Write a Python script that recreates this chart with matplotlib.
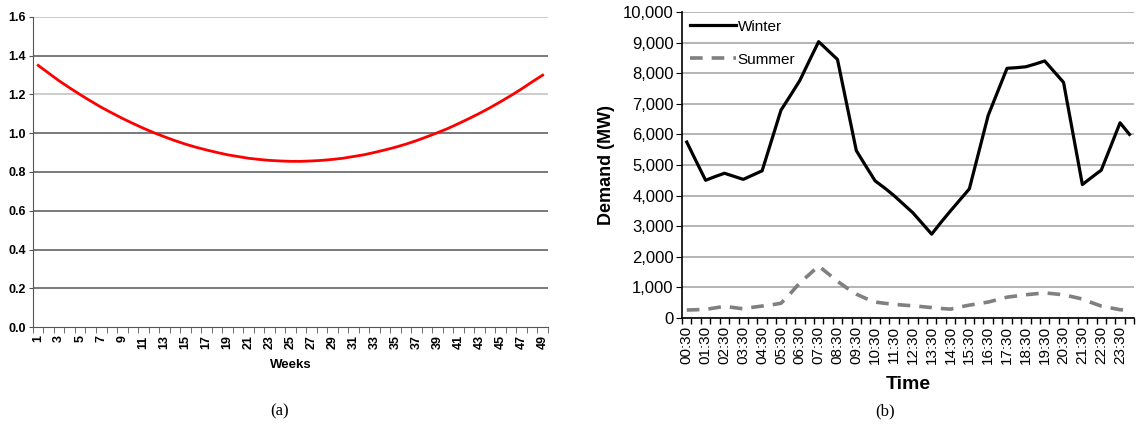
import matplotlib
matplotlib.use('Agg')
import matplotlib.pyplot as plt
import numpy as np
from matplotlib.ticker import StrMethodFormatter

plt.rcParams['font.family'] = ['Liberation Sans', 'DejaVu Sans']

# (a) weekly factor
weeks = list(range(1, 50))
factor = [1.350, 1.310, 1.270, 1.234, 1.199, 1.166, 1.134, 1.105, 1.077, 1.051,
          1.026, 1.003, 0.982, 0.962, 0.944, 0.928, 0.914, 0.901, 0.889, 0.880,
          0.871, 0.865, 0.860, 0.857, 0.855, 0.855, 0.857, 0.860, 0.865, 0.871,
          0.880, 0.889, 0.901, 0.914, 0.928, 0.944, 0.962, 0.982, 1.003, 1.025,
          1.050, 1.076, 1.103, 1.132, 1.163, 1.195, 1.229, 1.265, 1.300]

# (b) half-hourly demand, 00:30 .. 24:00
hour_labels = ['%02d:30' % h for h in range(24)]
winter = [5750, 5120, 4500, 4620, 4730, 4630, 4530, 4670, 4810, 5800,
          6790, 7270, 7760, 8400, 9030, 8740, 8450, 6960, 5470, 4970,
          4480, 4250, 4000, 3720, 3440, 3090, 2740, 3130, 3500, 3860,
          4220, 5420, 6620, 7390, 8160, 8180, 8210, 8300, 8400, 8050,
          7700, 6030, 4360, 4600, 4830, 5600, 6380, 6000]
summer = [260, 270, 280, 330, 380, 340, 300, 350, 390, 430,
          480, 800, 1150, 1420, 1700, 1450, 1200, 980, 780, 640,
          520, 480, 450, 420, 400, 370, 340, 310, 290, 360,
          420, 470, 520, 600, 680, 720, 760, 790, 820, 790,
          760, 690, 620, 500, 390, 330, 270, 260]

narrow = ['Liberation Sans Narrow', 'Liberation Sans']

fig = plt.figure(figsize=(11.36, 4.30), dpi=100)

# ---- left panel ----
ax1 = fig.add_axes([0.029, 0.2395, 0.4533, 0.721])
ax1.plot(weeks, factor, color='red', lw=2.0, zorder=3)
ax1.set_xlim(0.5, 49.5)
ax1.set_ylim(0, 1.6)
yt = np.arange(0, 1.61, 0.2)
ax1.set_yticks(yt)
ax1.set_yticklabels(['%.1f' % v for v in yt])
for v in yt[1:]:
    c = '#c0c0c0' if round(v, 1) in (1.6, 1.2) else '#555555'
    ax1.axhline(v, color=c, lw=1.1, zorder=1)
ax1.set_xticks(weeks[::2])
ax1.set_xticklabels([str(w) for w in weeks[::2]], rotation=90)
ax1.set_xticks(np.arange(0.5, 50, 1), minor=True)
ax1.tick_params(axis='x', which='major', length=0, pad=6)
ax1.tick_params(axis='x', which='minor', length=4, color='#555555')
ax1.tick_params(axis='y', length=3, color='#555555', pad=2)
for lab in ax1.get_xticklabels() + ax1.get_yticklabels():
    lab.set_fontweight('bold')
    lab.set_fontsize(9)
    lab.set_family(narrow)
for s in ['top', 'right']:
    ax1.spines[s].set_visible(False)
ax1.spines['left'].set_color('#555555')
ax1.spines['bottom'].set_color('#555555')
ax1.set_xlabel('Weeks', fontsize=9.5, fontweight='bold', labelpad=7, family=narrow)

# ---- right panel ----
x = np.arange(len(winter)) * 0.5
ax2 = fig.add_axes([0.6004, 0.2605, 0.398, 0.7116])
ax2.plot(x, winter, color='black', lw=2.3, label='Winter', zorder=3)
ax2.plot(x, summer, color='#808080', lw=2.6, ls=(0, (3.5, 2.5)),
         label='Summer', zorder=3)
ax2.set_xlim(-0.25, 23.75)
ax2.set_ylim(0, 10000)
ax2.set_yticks(np.arange(0, 10001, 1000))
ax2.yaxis.set_major_formatter(StrMethodFormatter('{x:,.0f}'))
ax2.grid(axis='y', color='#a8a8a8', lw=1.2, zorder=1)
ax2.set_xticks(range(24))
ax2.set_xticklabels(hour_labels, rotation=90)
ax2.set_xticks(np.arange(-0.25, 23.8, 0.5), minor=True)
ax2.tick_params(axis='x', which='major', length=0, labelsize=11, pad=6)
ax2.tick_params(axis='x', which='minor', length=4, width=1)
ax2.tick_params(axis='y', length=4, labelsize=12, pad=2)
for s in ['top', 'right']:
    ax2.spines[s].set_visible(False)
ax2.spines['left'].set_linewidth(1.2)
ax2.spines['bottom'].set_linewidth(1.2)
ax2.set_ylabel('Demand (MW)', fontsize=13, fontweight='bold', labelpad=6)
ax2.set_xlabel('Time', fontsize=14, fontweight='bold', labelpad=8)
ax2.legend(loc='upper left', frameon=False, fontsize=11, handlelength=3.0,
           handletextpad=0.15, labelspacing=1.25, borderaxespad=0.1,
           bbox_to_anchor=(0.0, 1.0))

fig.text(0.2465, 0.035, '(a)', ha='center', family='Liberation Serif', fontsize=12)
fig.text(0.7795, 0.035, '(b)', ha='center', family='Liberation Serif', fontsize=12)

fig.savefig('out.png', dpi=100)
